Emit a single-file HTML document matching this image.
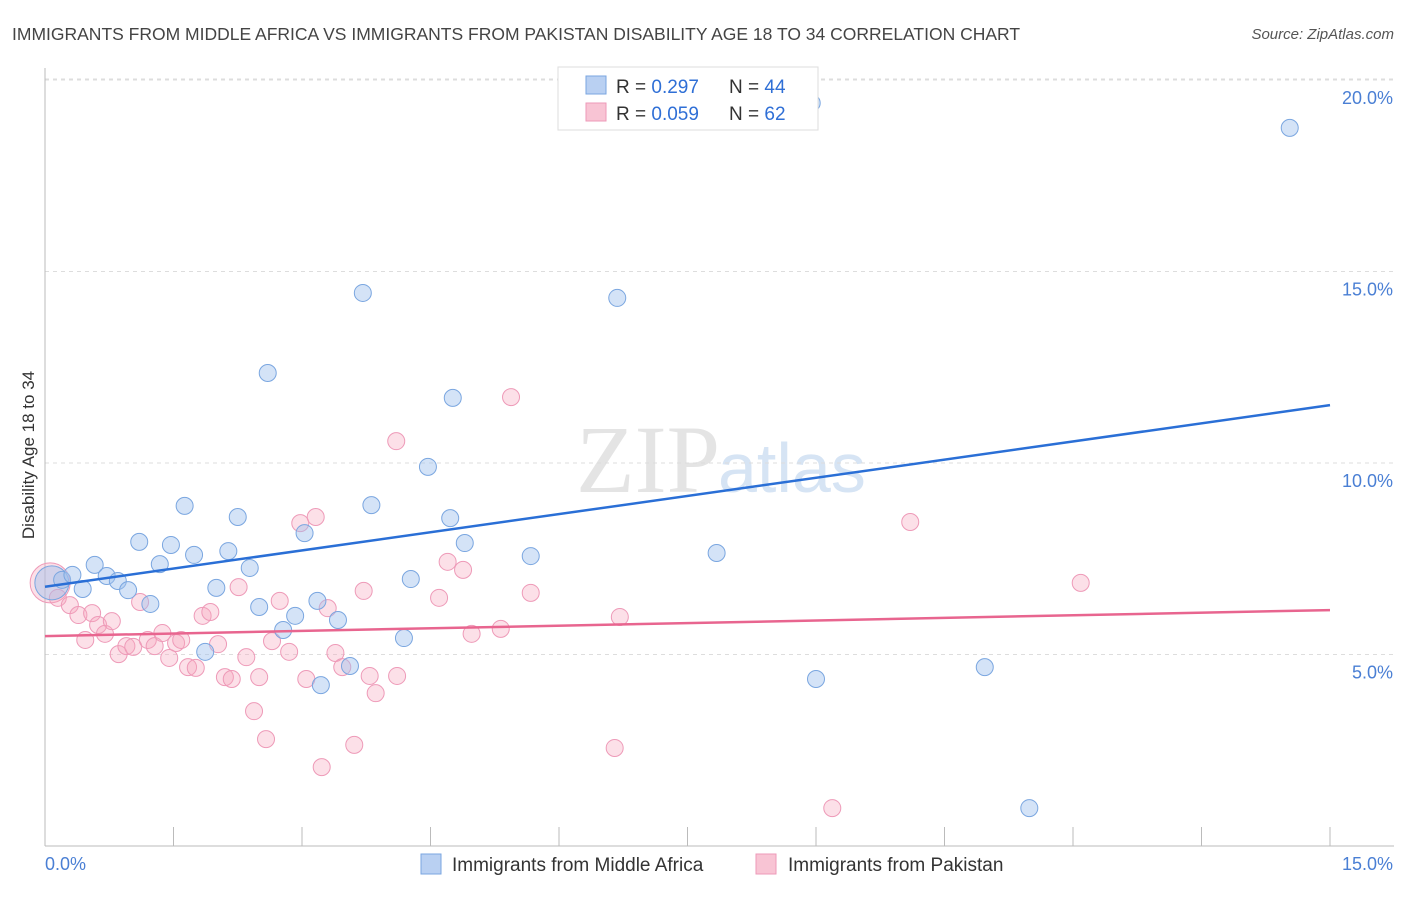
<!DOCTYPE html>
<html><head><meta charset="utf-8"><style>
body{margin:0;background:#fff;font-family:"Liberation Sans",sans-serif}
svg text{font-family:"Liberation Sans",sans-serif}
</style></head><body>
<svg width="1406" height="892" xmlns="http://www.w3.org/2000/svg" id="chart">
<text x="12" y="40" font-size="17.5" fill="#444">IMMIGRANTS FROM MIDDLE AFRICA VS IMMIGRANTS FROM PAKISTAN DISABILITY AGE 18 TO 34 CORRELATION CHART</text>
<text x="1394" y="39" font-size="15" fill="#555" font-style="italic" text-anchor="end">Source: ZipAtlas.com</text>
<text x="720" y="492" font-size="96" fill="#e4e4e4" text-anchor="end" font-family="Liberation Serif" style="font-family:'Liberation Serif',serif">ZIP</text>
<text x="718" y="492" font-size="70" fill="#d6e4f4">atlas</text>
<g id="grid"></g>
<g id="axes"></g>
<g id="pts"></g>
<g id="trend"></g>
<text x="34" y="455" font-size="17" fill="#333" text-anchor="middle" transform="rotate(-90 34 455)">Disability Age 18 to 34</text>
<g>
<rect x="558" y="67" width="260" height="63" fill="#fff" stroke="#ddd"/>
<rect x="586" y="76" width="20" height="18" fill="#b9d0f2" stroke="#7aa6e0"/>
<rect x="586" y="103" width="20" height="18" fill="#f8c4d4" stroke="#ee9ab8"/>
<text x="616" y="93" font-size="19" fill="#333">R = <tspan fill="#2f6fd6">0.297</tspan><tspan x="729">N = </tspan><tspan fill="#2f6fd6">44</tspan></text>
<text x="616" y="120" font-size="19" fill="#333">R = <tspan fill="#2f6fd6">0.059</tspan><tspan x="729">N = </tspan><tspan fill="#2f6fd6">62</tspan></text>
</g>
<g>
<rect x="421" y="854" width="20" height="20" fill="#b9d0f2" stroke="#7aa6e0"/>
<text x="452" y="871" font-size="19" fill="#333">Immigrants from Middle Africa</text>
<rect x="756" y="854" width="20" height="20" fill="#f8c4d4" stroke="#ee9ab8"/>
<text x="788" y="871" font-size="19" fill="#333">Immigrants from Pakistan</text>
</g>
</svg>
<script>
const xTicks=[0,1.5,3,4.5,6,7.5,9,10.5,12,13.5,15];
const yTicks=[5,10,15,20];
const yTickLabels=["5.0%","10.0%","15.0%","20.0%"];
const blueX=[0.08,0.20,0.32,0.44,0.58,0.72,0.85,0.97,1.10,1.23,1.34,1.47,1.63,1.74,1.87,2.00,2.14,2.25,2.39,2.50,2.60,2.78,2.92,3.03,3.18,3.22,3.42,3.56,3.71,3.81,4.19,4.27,4.47,4.73,4.76,4.90,5.67,6.68,7.84,8.95,9.00,10.97,11.49,14.53];
const blueY=[6.87,6.95,7.08,6.71,7.34,7.05,6.92,6.68,7.94,6.32,7.36,7.86,8.88,7.60,5.07,6.74,7.70,8.59,7.26,6.24,12.35,5.64,6.01,8.17,6.40,4.20,5.90,4.70,14.44,8.90,5.43,6.97,9.90,8.56,11.70,7.91,7.57,14.31,7.65,19.40,4.36,4.67,0.99,18.75];
const pinkX=[0.06,0.15,0.29,0.39,0.47,0.55,0.62,0.70,0.78,0.86,0.95,1.03,1.11,1.20,1.28,1.37,1.45,1.53,1.59,1.67,1.76,1.84,1.93,2.02,2.10,2.18,2.26,2.35,2.44,2.50,2.58,2.65,2.74,2.85,2.98,3.05,3.16,3.23,3.30,3.39,3.47,3.61,3.72,3.79,3.86,4.10,4.11,4.60,4.70,4.88,4.98,5.32,5.44,5.67,6.65,6.71,9.19,10.10,12.09];
const pinkY=[6.87,6.48,6.29,6.03,5.38,6.08,5.77,5.54,5.87,5.01,5.22,5.20,6.37,5.38,5.22,5.56,4.91,5.30,5.38,4.67,4.65,6.01,6.11,5.27,4.41,4.36,6.76,4.93,3.52,4.41,2.79,5.35,6.40,5.07,8.43,4.36,8.59,2.06,6.21,5.04,4.67,2.64,6.66,4.44,3.99,10.57,4.44,6.48,7.42,7.21,5.54,5.67,11.72,6.61,2.56,5.98,0.99,8.46,6.87];
const blueTrend=[6.77,11.51];
const pinkTrend=[5.48,6.16];
const NS="http://www.w3.org/2000/svg";
const sx=v=>45+v*(1285/15);
const sy=v=>846-v*38.3;
function mk(tag,attrs,parent){const e=document.createElementNS(NS,tag);for(const k in attrs)e.setAttribute(k,attrs[k]);document.getElementById(parent).appendChild(e);return e;}
yTicks.forEach((t,i)=>{
 const l=mk('line',{x1:45,x2:1394,y1:sy(t),y2:sy(t),stroke:'#ddd','stroke-dasharray':'4,4'},'grid');
 
 
 const tx=mk('text',{x:1393,y:sy(t)+24,'font-size':18,fill:'#4a7fd4','text-anchor':'end'},'grid');
 tx.textContent=yTickLabels[i];
 
 
});
const tl=mk('line',{x1:45,x2:1394,y1:79,y2:79,stroke:'#ddd','stroke-dasharray':'4,4'},'grid');


const ya=mk('line',{x1:45,x2:45,y1:68,y2:846,stroke:'#bbb'},'axes');


const xa=mk('line',{x1:45,x2:1394,y1:846,y2:846,stroke:'#bbb'},'axes');


xTicks.forEach(t=>{
 const l=mk('line',{x1:sx(t),x2:sx(t),y1:827,y2:846,stroke:'#bbb'},'axes');
 
 
});
const x0=mk('text',{x:45,y:870,'font-size':18,fill:'#4a7fd4'},'axes');x0.textContent='0.0%';


const x1=mk('text',{x:1393,y:870,'font-size':18,fill:'#4a7fd4','text-anchor':'end'},'axes');x1.textContent='15.0%';


pinkX.forEach((v,i)=>{
 const c=mk('circle',{cx:sx(v),cy:sy(pinkY[i]),r:i===0?20:8.5,fill:'rgba(245,165,190,0.35)',stroke:'#ee9ab8','stroke-width':1},'pts');
 
 
});
blueX.forEach((v,i)=>{
 const c=mk('circle',{cx:sx(v),cy:sy(blueY[i]),r:i===0?17:8.5,fill:'rgba(160,192,238,0.45)',stroke:'#7aa6e0','stroke-width':1},'pts');
 
 
});
const bl=mk('line',{x1:sx(0),x2:sx(15),y1:sy(blueTrend[0]),y2:sy(blueTrend[1]),stroke:'#2a6fd6','stroke-width':2.5},'trend');


const pl=mk('line',{x1:sx(0),x2:sx(15),y1:sy(pinkTrend[0]),y2:sy(pinkTrend[1]),stroke:'#e8658f','stroke-width':2.5},'trend');


</script>
</body></html>
